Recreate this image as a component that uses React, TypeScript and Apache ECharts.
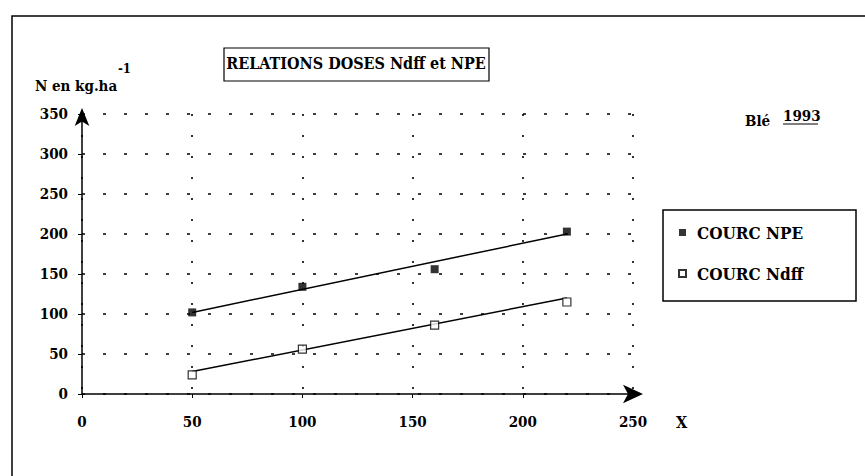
import React, { useEffect, useRef } from "react";
import * as echarts from "echarts";

const doses = [50, 100, 160, 220];
const npeValues = [102, 134, 156, 203];
const ndffValues = [24, 56, 86, 115];
const trendX = [50, 220];
const npeTrend = [102, 200];
const ndffTrend = [28, 120];
const seriesNames = ["COURC NPE", "COURC Ndff"];
const xTicks = [0, 50, 100, 150, 200, 250];
const yTicks = [0, 50, 100, 150, 200, 250, 300, 350];

const FONT = "DejaVu Serif Condensed";

export default function App() {
  const ref = useRef<HTMLDivElement>(null);
  useEffect(() => {
    if (!ref.current) return;
    const chart = echarts.init(ref.current, undefined, { renderer: "svg" });
    const pair = (xs: number[], ys: number[]) => xs.map((x, i) => [x, ys[i]]);
    const txt = (text: string, x: number, y: number, size: number) => ({
      type: "text",
      x,
      y,
      style: { text, fontFamily: FONT, fontWeight: "bold", fontSize: size, fill: "#000", verticalAlign: "middle" },
    });
    chart.setOption({
      animation: false,
      backgroundColor: "#fff",
      textStyle: { fontFamily: FONT, fontWeight: "bold", color: "#000" },
      title: {
        text: "RELATIONS DOSES Ndff et NPE",
        left: 356,
        top: 55,
        textAlign: "center",
        padding: 0,
        textStyle: { fontFamily: FONT, fontWeight: "bold", fontSize: 16, color: "#000" },
      },
      grid: { left: 82, right: 232, top: 114, bottom: 82 },
      xAxis: {
        type: "value",
        min: xTicks[0],
        max: xTicks[xTicks.length - 1],
        interval: 50,
        axisLine: {
          show: true,
          lineStyle: { color: "#000", width: 1.5 },
          symbol: ["none", "arrow"],
          symbolSize: [14, 20],
          symbolOffset: [0, 10],
        },
        axisTick: { show: true, length: 4, inside: false, lineStyle: { color: "#000", width: 1 } },
        axisLabel: { margin: 20, fontSize: 15, fontFamily: FONT, fontWeight: "bold", color: "#000" },
        splitLine: { show: true, lineStyle: { color: "#000", width: 1.6, type: [2, 19] } },
      },
      yAxis: {
        type: "value",
        min: yTicks[0],
        max: yTicks[yTicks.length - 1],
        interval: 50,
        axisLine: {
          show: true,
          lineStyle: { color: "#000", width: 1.5 },
          symbol: ["none", "arrow"],
          symbolSize: [11, 18],
          symbolOffset: [0, 6],
        },
        axisTick: { show: true, length: 4, lineStyle: { color: "#000", width: 1 } },
        axisLabel: { margin: 14, fontSize: 15, fontFamily: FONT, fontWeight: "bold", color: "#000" },
        splitLine: { show: true, lineStyle: { color: "#000", width: 1.6, type: [3, 18] } },
      },
      legend: {
        data: seriesNames,
        orient: "vertical",
        left: 678,
        top: 224,
        padding: 0,
        itemGap: 24,
        itemWidth: 7,
        itemHeight: 7,
        icon: "rect",
        textStyle: { fontFamily: FONT, fontWeight: "bold", fontSize: 17, color: "#000", padding: [0, 0, 0, 6] },
      },
      graphic: [
        { type: "rect", shape: { x: 12, y: 16, width: 900, height: 520 }, style: { fill: "none", stroke: "#000", lineWidth: 1.5 }, silent: true },
        { type: "rect", shape: { x: 224, y: 48, width: 265, height: 33 }, style: { fill: "none", stroke: "#000", lineWidth: 1.2 }, silent: true },
        { type: "rect", shape: { x: 663, y: 210, width: 193, height: 91 }, style: { fill: "none", stroke: "#000", lineWidth: 1.5 }, silent: true },
        txt("N en kg.ha", 35, 86, 15),
        txt("-1", 118, 68, 13),
        txt("X", 676, 422, 16),
        txt("Blé", 745, 121, 15),
        txt("1993", 783, 116, 15),
        { type: "line", shape: { x1: 783, y1: 124, x2: 818, y2: 124 }, style: { stroke: "#000", lineWidth: 1.2 } },
      ],
      series: [
        {
          name: seriesNames[0],
          type: "scatter",
          symbol: "rect",
          symbolSize: 8,
          itemStyle: { color: "#000" },
          data: pair(doses, npeValues),
          z: 5,
        },
        {
          name: seriesNames[1],
          type: "scatter",
          symbol: "rect",
          symbolSize: 8,
          itemStyle: { color: "#fff", borderColor: "#000", borderWidth: 1.2 },
          data: pair(doses, ndffValues),
          z: 5,
        },
        {
          name: "trend NPE",
          type: "line",
          symbol: "none",
          lineStyle: { color: "#000", width: 1.5 },
          data: pair(trendX, npeTrend),
          z: 3,
        },
        {
          name: "trend Ndff",
          type: "line",
          symbol: "none",
          lineStyle: { color: "#000", width: 1.5 },
          data: pair(trendX, ndffTrend),
          z: 3,
        },
      ],
    });
    return () => chart.dispose();
  }, []);
  return <div ref={ref} style={{ position: "fixed", left: 0, top: 0, width: 865, height: 476 }} />;
}
